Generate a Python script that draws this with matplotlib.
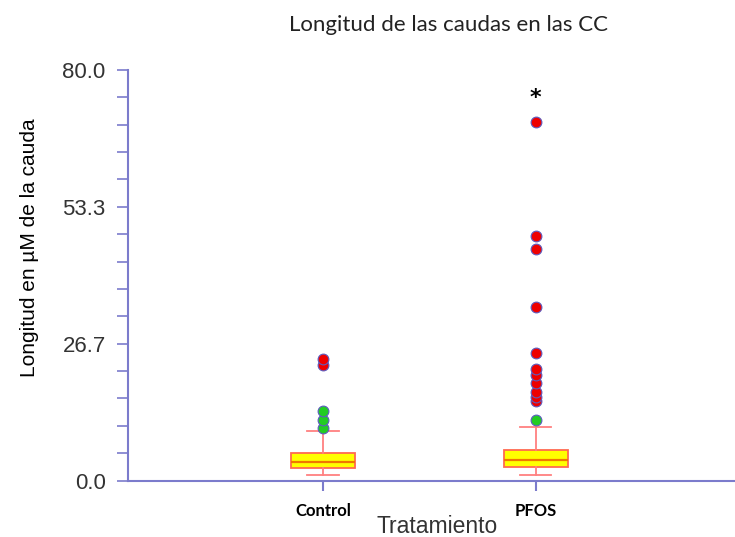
import matplotlib.pyplot as plt
import numpy as np

# box statistics
groups = ["Control", "PFOS"]
q1 = [2.5, 2.7]
medians = [3.6, 3.9]
q3 = [5.3, 6.0]
whisker_low = [1.0, 1.0]
whisker_high = [9.6, 10.4]

# near outliers (green) and far outliers (red)
near_control = [10.2, 11.7, 13.5]
near_pfos = [11.7]
far_control = [22.6, 23.6]
far_pfos = [15.4, 16.3, 17.2, 19.0, 20.6, 21.7, 24.9, 33.8, 45.1, 47.6, 69.9]

star_value = 74.5

axis_col = "#7b7bcc"

fig = plt.figure(figsize=(7.35, 5.37), dpi=100)
ax = fig.add_axes([0.1741, 0.1052, 0.8259, 0.7644])

stats = []
for i in range(len(groups)):
    stats.append({"label": groups[i], "q1": q1[i], "med": medians[i], "q3": q3[i],
                  "whislo": whisker_low[i], "whishi": whisker_high[i], "fliers": []})

pos = [1, 2]
ax.bxp(stats, positions=pos, widths=0.30, capwidths=0.146, patch_artist=True,
       showfliers=False,
       boxprops=dict(facecolor="#ffff00", edgecolor="#ff6a50", linewidth=1.3),
       medianprops=dict(color="#f07800", linewidth=1.6),
       whiskerprops=dict(color="#ff8080", linewidth=1.3),
       capprops=dict(color="#ff8080", linewidth=1.3))

ax.scatter([1] * len(near_control), near_control, s=60, c="#22cc22", edgecolors="#5c5cc0", linewidths=0.8, zorder=3)
ax.scatter([2] * len(near_pfos), near_pfos, s=60, c="#22cc22", edgecolors="#5c5cc0", linewidths=0.8, zorder=3)
ax.scatter([1] * len(far_control), far_control, s=60, c="#ee0000", edgecolors="#5c5cc0", linewidths=0.8, zorder=3)
ax.scatter([2] * len(far_pfos), far_pfos, s=60, c="#ee0000", edgecolors="#5c5cc0", linewidths=0.8, zorder=3)

ax.text(2, star_value, "*", ha="center", va="center", fontsize=16, fontweight="bold")

ax.set_xlim(0.083, 2.937)
ax.set_ylim(0, 80)

major = np.linspace(0, 80, 4)
minor = np.linspace(0, 80, 16)
ax.set_yticks(major)
ax.set_yticklabels(["%.1f" % v for v in major], fontsize=16, family="Liberation Sans", color="#333333")
ax.set_yticks(minor, minor=True)
ax.set_xticks(pos)
ax.set_xticklabels(groups, fontsize=12, fontweight="bold", family="Lato")

for s in ["top", "right"]:
    ax.spines[s].set_visible(False)
for s in ["left", "bottom"]:
    ax.spines[s].set_color(axis_col)
    ax.spines[s].set_linewidth(1.5)
ax.tick_params(axis="y", which="both", color=axis_col, length=8, width=1.2, pad=8)
ax.tick_params(axis="x", color=axis_col, length=7, width=1.5, pad=9)

ax.set_xlabel("Tratamiento", fontsize=16.5, family="Liberation Sans", color="#333333")
ax.xaxis.set_label_coords(0.509, -0.085)
ax.set_ylabel("Longitud en µM de la cauda", fontsize=15, family="Liberation Sans")
ax.yaxis.set_label_coords(-0.147, 0.566)

fig.text(0.61, 0.953, "Longitud de las caudas en las CC", ha="center", va="center",
         fontsize=16, family="Lato", color="#222222")

plt.savefig("out.png")
